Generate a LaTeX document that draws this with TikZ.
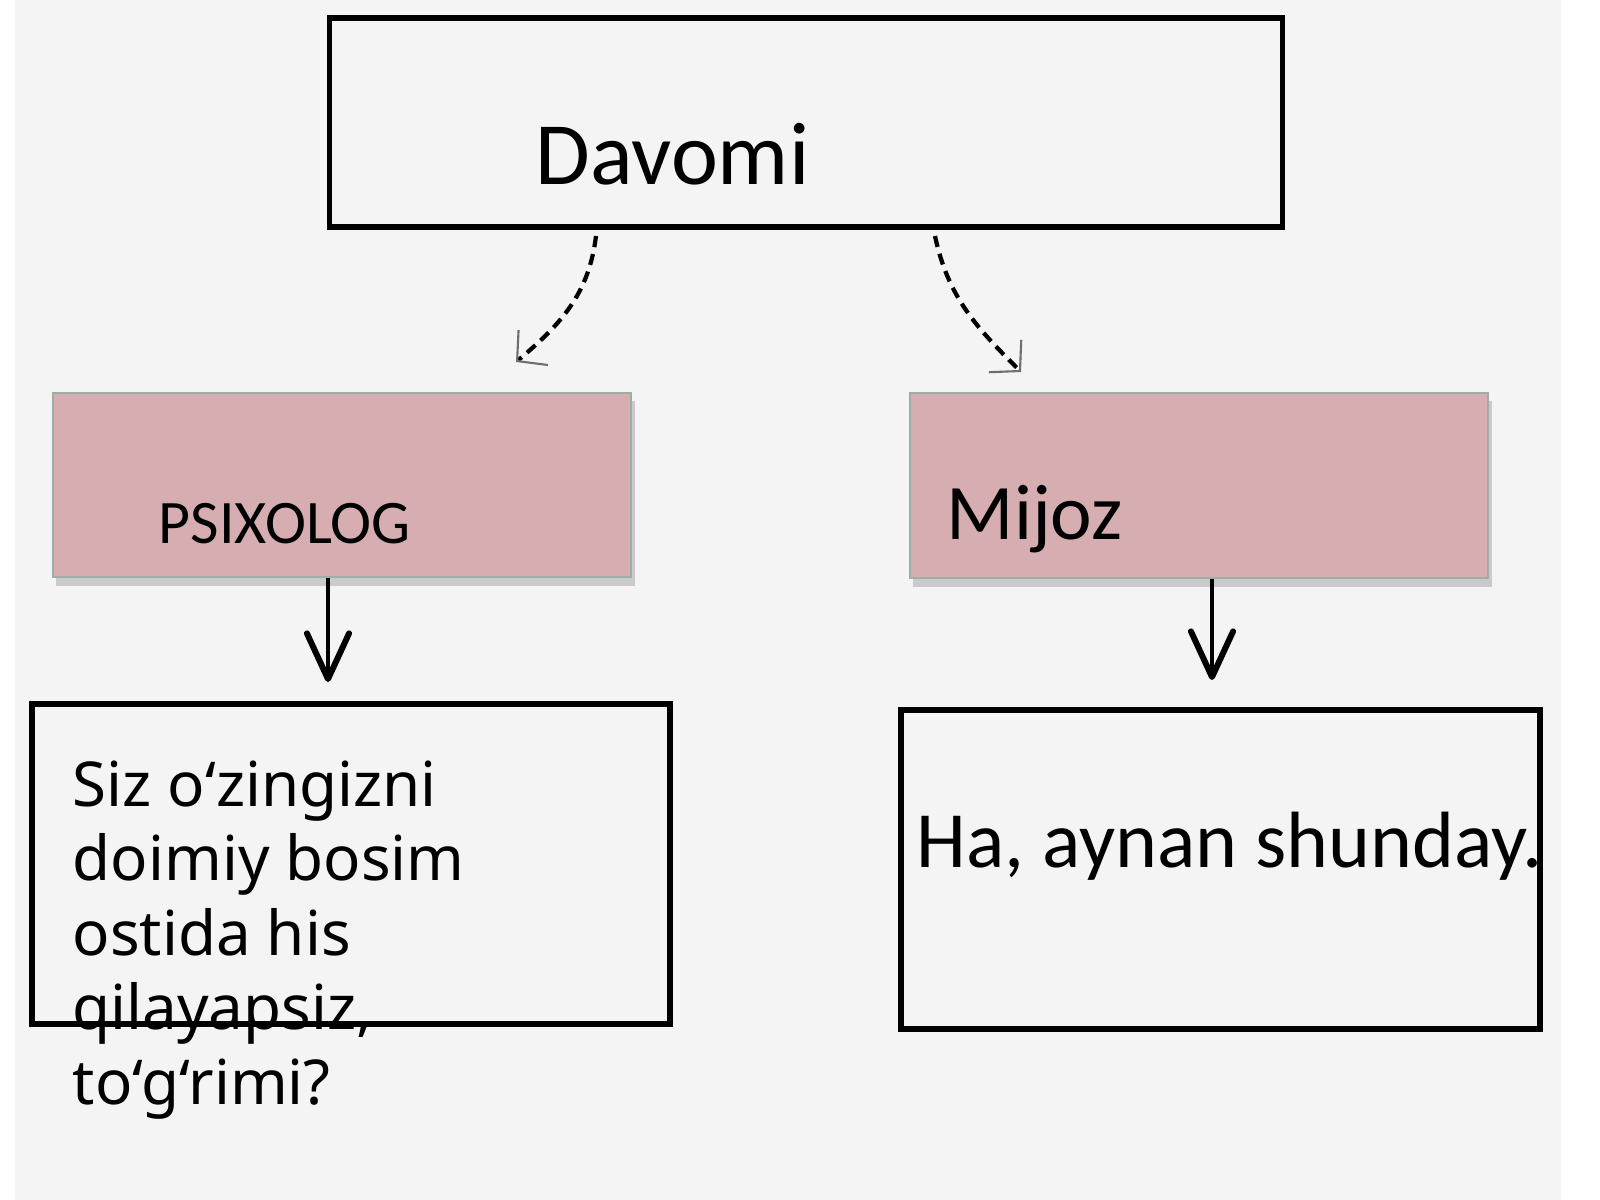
\documentclass[tikz,border=0pt]{standalone}
\usepackage{fontspec}
\setmainfont{Carlito}
\newfontfamily\notosans{Noto Sans}
\usetikzlibrary{arrows.meta,shadows}
\definecolor{bgc}{RGB}{244,244,244}
\definecolor{pinkfill}{RGB}{214,174,178}
\definecolor{pinkedge}{RGB}{160,172,166}
\definecolor{tipgray}{RGB}{110,110,110}
\begin{document}
\begin{tikzpicture}[x=0.01cm,y=-0.01cm,
  plainbox/.style={draw=black, line width=1.5pt, rectangle, inner sep=0pt},
  pinkbox/.style={draw=pinkedge, line width=0.6pt, fill=pinkfill, rectangle, inner sep=0pt,
    drop shadow={shadow xshift=1.0pt, shadow yshift=-2.4pt, fill=black!45, opacity=0.4}},
  label/.style={anchor=base west, inner sep=0pt, text=black},
  dasharrow/.style={line width=1.2pt, dash pattern=on 3.2pt off 2pt,
    -{Straight Barb[color=tipgray, line width=0.6pt, length=6pt, width=13pt]}},
  solidarrow/.style={line width=1.1pt, -{Straight Barb[line width=1.7pt, length=13pt, width=12pt, round]}}
]
\useasboundingbox (0,0) rectangle (1600,1200);
\fill[white] (0,0) rectangle (1600,1200);
\fill[bgc] (15,0) rectangle (1561,1200);

% boxes
\node[plainbox, minimum width=9.52cm, minimum height=2.09cm] (top) at (806,122.5) {};
\node[pinkbox, minimum width=5.78cm, minimum height=1.84cm] (psix) at (342,485) {};
\node[pinkbox, minimum width=5.78cm, minimum height=1.85cm] (mijoz) at (1199,485.5) {};
\node[plainbox, line width=1.7pt, minimum width=6.38cm, minimum height=3.20cm] (qbox) at (351,864) {};
\node[plainbox, line width=1.7pt, minimum width=6.39cm, minimum height=3.19cm] (abox) at (1220.5,869.5) {};

% texts
\node[label, font=\fontsize{25.3}{30}\selectfont] (tdav) at (535,184) {Davomi};
\node[label, font=\fontsize{17.6}{21}\selectfont] (tpsi) at (158,543) {PSIXOLOG};
\node[label, font=\fontsize{22.4}{27}\selectfont] (tmij) at (946,539) {Mijoz};
\node[label, font=\fontsize{22.7}{27}\selectfont] (tha) at (916,867) {Ha, aynan shunday.};
\node[label, font=\notosans\fontsize{17.6}{21.2}\selectfont] (tsiz) at (72,806)
  {\vtop{\hbox{Siz o‘zingizni}\hbox{doimiy bosim}\hbox{ostida his}\hbox{qilayapsiz,}\hbox{to‘g‘rimi?}}};

% connector end points
\coordinate (ls) at (596,236);
\coordinate (le) at (516,362);
\coordinate (rs) at (935,236);
\coordinate (re) at (1021,372);
\coordinate (la) at (328,682);
\coordinate (ra) at (1212,680);

\draw[dasharrow] (ls) to[out=-97, in=40] (le);
\draw[dasharrow] (rs) to[out=-78, in=135] (re);
\draw[solidarrow] (psix.south -| la) -- (la);
\draw[solidarrow] (mijoz.south -| ra) -- (ra);
\end{tikzpicture}
\end{document}
